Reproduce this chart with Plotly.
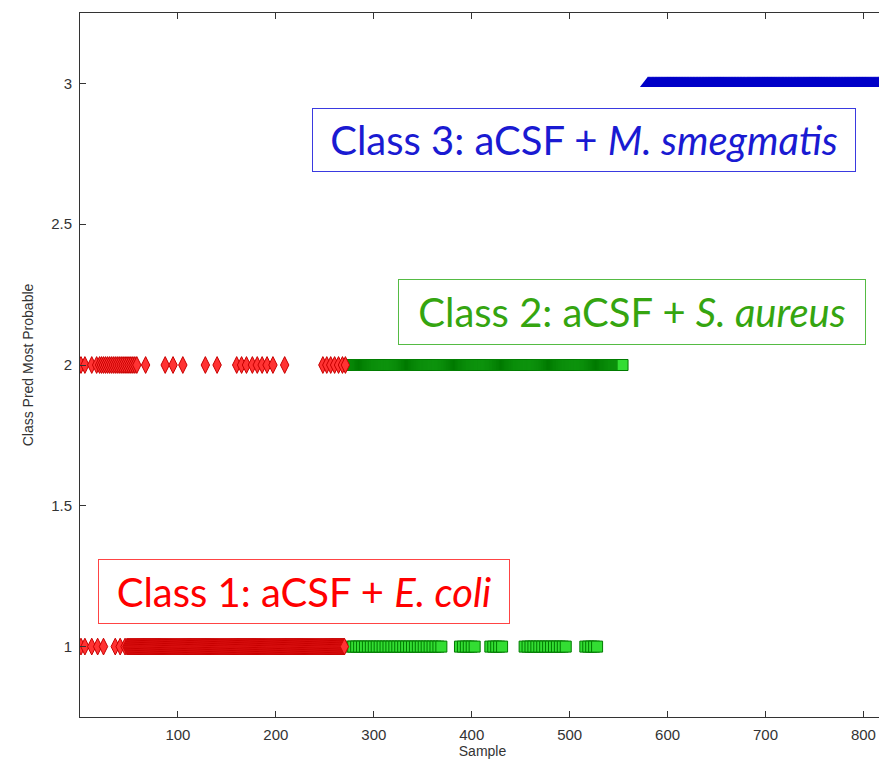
import plotly.graph_objects as go

# ---- data (sample index runs) ----
# Class 1 (E. coli) samples predicted as class 1
red_pred1_points = [1, 5, 12, 18, 24, 36, 41, 46]
red_pred1_runs = [(48, 270)]
# Class 1 samples predicted as class 2
red_pred2_points = [1, 5, 12, 17, 67, 87, 95, 105, 128, 140, 160, 165, 170, 176, 181, 186, 191, 197, 209,
                    248, 252, 256, 260, 264, 268, 271]
red_pred2_runs = [(20, 58)]
# Class 2 (S. aureus) samples predicted as class 1
green_pred1_runs = [(276, 371), (388, 404), (419, 431), (454, 497), (516, 529)]
# Class 2 samples predicted as class 2
green_pred2_runs = [(276, 554)]
# Class 3 (M. smegmatis) samples predicted as class 3
blue_pred3_runs = [(580, 830)]

x_ticks = [100, 200, 300, 400, 500, 600, 700, 800]
y_ticks = [1, 1.5, 2, 2.5, 3]
y_tick_labels = ["1", "1.5", "2", "2.5", "3"]


def expand(runs, step, points=()):
    xs = list(points)
    for a, b in runs:
        xs.extend(range(a, b + 1, step))
    return xs


red1 = expand(red_pred1_runs, 1, red_pred1_points)
red2 = expand(red_pred2_runs, 2, red_pred2_points)
green1 = expand(green_pred1_runs, 3)
green2 = expand(green_pred2_runs, 1)
blue3 = expand(blue_pred3_runs, 1)

fig = go.Figure()

fig.add_trace(go.Scatter(x=green1, y=[1] * len(green1), mode="markers",
                         marker=dict(symbol="square", size=11, color="#33dd33",
                                     line=dict(color="#007a00", width=1))))
fig.add_trace(go.Scatter(x=green2, y=[2] * len(green2), mode="markers",
                         marker=dict(symbol="square", size=11, color="#33dd33",
                                     line=dict(color="#007a00", width=1))))
fig.add_trace(go.Scatter(x=red1, y=[1] * len(red1), mode="markers",
                         marker=dict(symbol="diamond-tall", size=12, color="#ff3333",
                                     line=dict(color="#c80000", width=1))))
fig.add_trace(go.Scatter(x=red2, y=[2] * len(red2), mode="markers",
                         marker=dict(symbol="diamond-tall", size=12, color="#ff3333",
                                     line=dict(color="#c80000", width=1))))
fig.add_trace(go.Scatter(x=blue3, y=[3] * len(blue3), mode="markers",
                         marker=dict(symbol="triangle-up", size=14, color="#0000c8",
                                     line=dict(color="#0000c8", width=0))))

ann_font = "Lato, 'Open Sans', sans-serif"
annotations = [
    dict(x=515, y=2.798, text="Class 3: aCSF + <i>M. smegmatis</i>",
         font=dict(color="#1a1ad2", size=40, family=ann_font),
         bordercolor="#3a3ae0", width=542, height=62),
    dict(x=564, y=2.187, text="Class 2: aCSF + <i>S. aureus</i>",
         font=dict(color="#35a510", size=40, family=ann_font),
         bordercolor="#55bb44", width=466, height=64),
    dict(x=229, y=1.194, text="Class 1: aCSF + <i>E. coli</i>",
         font=dict(color="#ff0000", size=40, family=ann_font),
         bordercolor="#ff4444", width=410, height=63),
]
for a in annotations:
    a.update(xref="x", yref="y", showarrow=False, borderwidth=1, borderpad=0,
             bgcolor="rgba(255,255,255,0)", align="center", valign="middle")

axis_common = dict(showgrid=False, zeroline=False, showline=True, linecolor="#333333",
                   linewidth=1, mirror="ticks", ticks="inside", ticklen=6, automargin=False,
                   tickcolor="#333333", tickfont=dict(family="Liberation Sans, Arial", size=15,
                                                      color="#333333"))

# the page body adds an 8px offset, so the figure is sized/margined to compensate
fig.update_layout(
    width=879, height=758,
    margin=dict(l=72, r=2, t=5, b=49),
    paper_bgcolor="white", plot_bgcolor="white",
    showlegend=False,
    annotations=annotations,
    xaxis=dict(range=[0, 822], tickvals=x_ticks, ticklabelstandoff=4,
               title=dict(text="Sample", standoff=2,
                          font=dict(family="Liberation Sans, Arial", size=14, color="#333333")),
               **axis_common),
    yaxis=dict(range=[0.75, 3.25], tickvals=y_ticks, ticktext=y_tick_labels, ticklabelstandoff=4,
               title=dict(text="Class Pred Most Probable", standoff=14,
                          font=dict(family="Liberation Sans, Arial", size=14, color="#333333")),
               **axis_common),
)

fig.write_html("out.html")
